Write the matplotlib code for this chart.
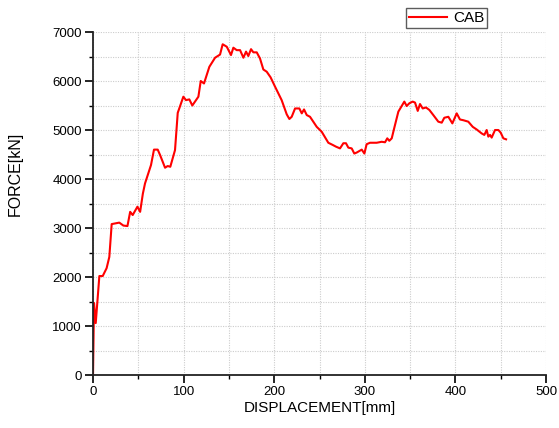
import numpy as np
import matplotlib.pyplot as plt
from matplotlib.ticker import MultipleLocator

plt.rcParams['font.family'] = ['Liberation Sans', 'DejaVu Sans']

# force-displacement curve (CAB)
disp = [0, 1.1, 3, 7, 10.7, 15, 18, 20.6, 29, 33.5, 38, 41, 43.8, 49, 52, 55,
        57.4, 64, 67.3, 71.4, 74, 79.5, 82.4, 85.3, 90.5, 93.5, 99.7, 102.6,
        106.3, 109.6, 116.3, 118.9, 122.5, 128.4, 134.7, 140.2, 143.1, 147.6,
        152.3, 154.9, 158.6, 162.3, 166, 168.9, 171.4, 174.4, 177, 180.7,
        184.3, 188, 191.7, 196, 200.9, 208.2, 213.8, 216.7, 219.3, 223, 227.7,
        230.4, 232.9, 235.9, 239.5, 246.9, 252.4, 259.7, 264.6, 268.2, 272.6,
        276.3, 279.2, 281.8, 285.5, 288.4, 291, 296.6, 299.5, 302, 305.7,
        313.1, 318.6, 322.3, 324.8, 327, 329.7, 332.6, 337, 340.7, 343.6,
        346.2, 349.1, 352.8, 355.4, 358.4, 360.9, 363.9, 367.5, 371.2, 375.6,
        381.1, 384.9, 387.7, 392.2, 394, 396.6, 401.4, 405, 408.7, 414.2,
        419.1, 423.5, 429, 431.9, 434.5, 436.3, 438.2, 440, 443.7, 447.4,
        450, 452.9, 455.9]
force = [0, 1470, 1060, 2020, 2020, 2180, 2410, 3080, 3110, 3050, 3040, 3330,
         3265, 3435, 3330, 3700, 3910, 4285, 4600, 4600, 4490, 4230, 4265,
         4250, 4590, 5350, 5680, 5610, 5625, 5500, 5680, 6000, 5950, 6290,
         6475, 6540, 6750, 6700, 6530, 6680, 6630, 6630, 6475, 6600, 6510,
         6650, 6585, 6585, 6460, 6235, 6190, 6075, 5885, 5610, 5320, 5225,
         5270, 5440, 5440, 5340, 5420, 5305, 5270, 5065, 4965, 4740, 4695,
         4660, 4625, 4730, 4730, 4640, 4625, 4520, 4540, 4600, 4520, 4710,
         4740, 4740, 4760, 4750, 4830, 4780, 4830, 5050, 5375, 5490, 5580,
         5490, 5545, 5580, 5560, 5390, 5530, 5440, 5460, 5410, 5305, 5170,
         5150, 5250, 5270, 5215, 5135, 5340, 5215, 5200, 5170, 5065, 5010,
         4930, 4900, 5000, 4865, 4900, 4845, 5000, 5000, 4945, 4830, 4810]

fig = plt.figure(figsize=(5.59, 4.28), dpi=100)
ax = fig.add_axes([0.1664, 0.1238, 0.8104, 0.8014])

ax.plot(disp, force, color='red', lw=1.5, label='CAB')

ax.set_xlim(0, 500)
ax.set_ylim(0, 7000)
ax.xaxis.set_major_locator(MultipleLocator(100))
ax.xaxis.set_minor_locator(MultipleLocator(50))
ax.yaxis.set_major_locator(MultipleLocator(1000))
ax.yaxis.set_minor_locator(MultipleLocator(500))

ax.grid(which='both', color='#cccccc', linestyle=(0, (1, 1.2)), lw=0.8)
ax.set_axisbelow(True)

for side in ['top', 'right']:
    ax.spines[side].set_visible(False)
for side in ['left', 'bottom']:
    ax.spines[side].set_linewidth(1.3)
    ax.spines[side].set_color('#222222')

ax.tick_params(which='major', direction='out', length=6, width=1.2,
               labelsize=9.5, pad=2)
ax.tick_params(which='minor', direction='out', length=3, width=1.0)

ax.set_xlabel('DISPLACEMENT[mm]', fontsize=11, labelpad=2)
ax.set_ylabel('FORCE[kN]', fontsize=11.5)
ax.yaxis.set_label_coords(-0.155, 0.586)

leg = ax.legend(loc='upper right', bbox_to_anchor=(0.870, 1.07),
                fontsize=11, frameon=True, fancybox=False,
                handlelength=2.5, handletextpad=0.35, borderpad=0.2,
                borderaxespad=0)
leg.get_frame().set_edgecolor('#333333')
leg.get_frame().set_linewidth(1.0)

fig.savefig('out.png', dpi=100)
